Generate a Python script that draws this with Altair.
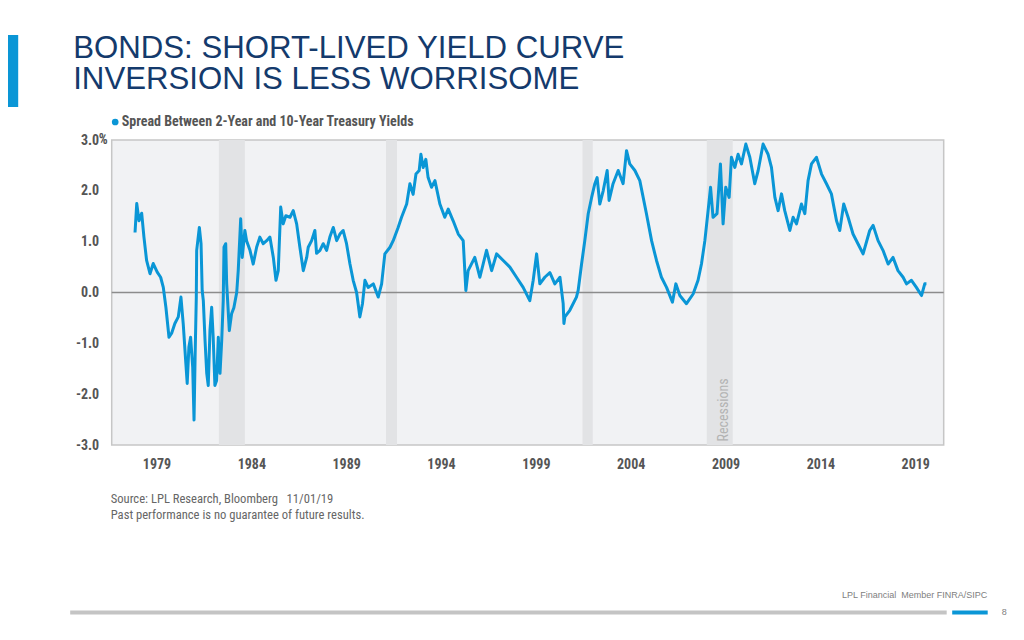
import altair as alt
import pandas as pd

# ---------------- data ----------------
years = [1977.87, 1977.96, 1978.08, 1978.22, 1978.34, 1978.48, 1978.66, 1978.83, 1979.04, 1979.22,
         1979.36, 1979.50, 1979.66, 1979.80, 1979.97, 1980.15, 1980.29, 1980.41, 1980.55, 1980.62,
         1980.71, 1980.80, 1980.91, 1980.98, 1981.04, 1981.10, 1981.12, 1981.26, 1981.35, 1981.41,
         1981.47, 1981.56, 1981.65, 1981.73, 1981.82, 1981.91, 1981.99, 1982.08, 1982.17, 1982.26,
         1982.35, 1982.44, 1982.52, 1982.56, 1982.65, 1982.70, 1982.84, 1982.96, 1983.08, 1983.23,
         1983.31, 1983.44, 1983.52, 1983.66, 1983.75, 1983.93, 1984.10, 1984.28, 1984.45, 1984.63,
         1984.81, 1984.98, 1985.16, 1985.30, 1985.42, 1985.55, 1985.68, 1985.82, 1986.04, 1986.21,
         1986.39, 1986.56, 1986.74, 1986.92, 1987.00, 1987.18, 1987.35, 1987.44, 1987.62, 1987.79,
         1987.97, 1988.14, 1988.32, 1988.50, 1988.67, 1988.84, 1989.02, 1989.20, 1989.37, 1989.55,
         1989.63, 1989.72, 1989.86, 1989.99, 1990.16, 1990.43, 1990.69, 1990.87, 1991.04, 1991.31,
         1991.48, 1991.74, 1991.92, 1992.19, 1992.36, 1992.53, 1992.68, 1992.85, 1992.94, 1993.06,
         1993.20, 1993.32, 1993.50, 1993.68, 1993.94, 1994.20, 1994.38, 1994.64, 1994.91, 1995.17,
         1995.31, 1995.43, 1995.78, 1996.05, 1996.40, 1996.67, 1996.93, 1997.28, 1997.63, 1997.98,
         1998.33, 1998.68, 1998.86, 1999.04, 1999.21, 1999.47, 1999.74, 2000.00, 2000.27, 2000.44,
         2000.48, 2000.53, 2000.79, 2001.14, 2001.23, 2001.41, 2001.58, 2001.76, 2001.94, 2002.11,
         2002.23, 2002.37, 2002.55, 2002.76, 2002.86, 2003.07, 2003.34, 2003.60, 2003.78, 2003.95,
         2004.22, 2004.48, 2004.83, 2005.10, 2005.36, 2005.62, 2005.89, 2006.20, 2006.38, 2006.59,
         2006.94, 2007.29, 2007.55, 2007.73, 2007.91, 2008.08, 2008.21, 2008.34, 2008.55, 2008.73,
         2008.87, 2009.01, 2009.19, 2009.31, 2009.49, 2009.66, 2009.84, 2010.07, 2010.28, 2010.54,
         2010.72, 2010.98, 2011.24, 2011.42, 2011.60, 2011.77, 2011.95, 2012.12, 2012.39, 2012.56,
         2012.74, 2013.00, 2013.18, 2013.35, 2013.53, 2013.79, 2014.06, 2014.32, 2014.58, 2014.85,
         2015.02, 2015.23, 2015.46, 2015.72, 2015.98, 2016.25, 2016.60, 2016.78, 2017.04, 2017.30,
         2017.57, 2017.83, 2018.09, 2018.36, 2018.54, 2018.80, 2019.06, 2019.33, 2019.50, 2019.59]

spread = [1.18, 1.75, 1.41, 1.56, 1.09, 0.63, 0.37, 0.57, 0.40, 0.30,
          0.10, -0.30, -0.88, -0.80, -0.61, -0.48, -0.09, -0.61, -1.40, -1.79,
          -1.07, -0.88, -1.47, -2.51, -1.20, -0.09, 0.83, 1.28, 0.96, 0.04,
          -0.16, -0.94, -1.59, -1.83, -0.75, -0.29, -0.88, -1.83, -1.73, -0.88,
          -1.59, -0.94, -0.16, 0.89, 0.96, 0.18, -0.75, -0.42, -0.30, 0.00,
          0.43, 1.45, 0.69, 1.22, 1.02, 0.83, 0.56, 0.89, 1.09, 0.96,
          1.02, 1.09, 0.69, 0.24, 0.43, 1.68, 1.35, 1.51, 1.48, 1.61,
          1.35, 0.89, 0.43, 0.69, 0.89, 1.02, 1.22, 0.77, 0.83, 0.96,
          0.83, 1.09, 1.28, 1.02, 1.15, 1.22, 0.96, 0.56, 0.24, 0.00,
          -0.22, -0.48, -0.22, 0.24, 0.10, 0.17, -0.09, 0.17, 0.76, 0.89,
          1.02, 1.28, 1.48, 1.74, 2.14, 1.93, 2.33, 2.40, 2.72, 2.46,
          2.62, 2.26, 2.07, 2.20, 1.74, 1.48, 1.64, 1.41, 1.15, 1.02,
          0.04, 0.43, 0.69, 0.30, 0.83, 0.43, 0.76, 0.63, 0.50, 0.30,
          0.10, -0.16, 0.24, 0.76, 0.17, 0.30, 0.39, 0.17, 0.30, -0.22,
          -0.61, -0.48, -0.35, -0.09, 0.04, 0.56, 1.02, 1.55, 1.87, 2.14,
          2.26, 1.74, 2.00, 2.40, 1.81, 2.14, 2.40, 2.14, 2.79, 2.53,
          2.40, 2.20, 1.55, 1.02, 0.63, 0.30, 0.10, -0.19, 0.17, -0.06,
          -0.22, -0.03, 0.24, 0.56, 1.02, 1.61, 2.07, 1.48, 1.55, 2.53,
          1.35, 2.07, 1.87, 2.66, 2.46, 2.72, 2.53, 2.92, 2.66, 2.14,
          2.40, 2.92, 2.72, 2.46, 1.87, 1.61, 1.94, 1.61, 1.22, 1.48,
          1.35, 1.74, 1.55, 2.20, 2.53, 2.66, 2.33, 2.14, 1.94, 1.41,
          1.22, 1.74, 1.48, 1.15, 0.96, 0.76, 1.22, 1.32, 1.02, 0.83,
          0.56, 0.69, 0.43, 0.30, 0.17, 0.24, 0.10, -0.06, 0.17, 0.17]

rec_start = [1982.29, 1991.10, 2001.46, 2008.01]
rec_end = [1983.66, 1991.68, 2002.00, 2009.38]

x_ticks = [1979, 1984, 1989, 1994, 1999, 2004, 2009, 2014, 2019]
y_ticks = [3, 2, 1, 0, -1, -2, -3]

title_lines = ["BONDS: SHORT-LIVED YIELD CURVE", "INVERSION IS LESS WORRISOME"]
legend_label = "Spread Between 2-Year and 10-Year Treasury Yields"
recession_label = "Recessions"
source_lines = ["Source: LPL Research, Bloomberg \u00a0 11/01/19",
                "Past performance is no guarantee of future results."]
footer_text = "LPL Financial \u00a0Member FINRA/SIPC"
page_number = "8"

# ---------------- styling ----------------
W, H = 832, 305
BLUE = "#0a96d6"
NAVY = "#143a6c"
COND = "Liberation Sans Narrow, Arial Narrow, Roboto Condensed, DejaVu Sans Condensed, sans-serif"
SANS = "Liberation Sans, Arial, Helvetica, sans-serif"

series = pd.DataFrame({"year": years, "spread": spread})
recs = pd.DataFrame({"start": rec_start, "end": rec_end})
one = pd.DataFrame({"k": [0]})

xscale = alt.Scale(domain=[1976.64, 2020.5], nice=False, zero=False)
yscale = alt.Scale(domain=[-3, 3], nice=False, zero=False)

x_axis = alt.Axis(values=x_ticks, format="d", title=None, ticks=False, domain=False, grid=False,
                  labelFont=COND, labelFontSize=14, labelFontWeight="bold", labelColor="#555555",
                  labelPadding=12)
y_axis = alt.Axis(values=y_ticks, title=None, ticks=False, domain=False, grid=False,
                  labelExpr="datum.value < 0 ? '-' + format(abs(datum.value), '.1f') : format(datum.value, '.1f')",
                  labelFont=COND, labelFontSize=14, labelFontWeight="bold", labelColor="#555555",
                  labelPadding=13)

rec_layer = alt.Chart(recs).mark_rect(color="#e2e3e5").encode(
    x=alt.X("start:Q", scale=xscale, axis=x_axis),
    x2="end:Q",
    y=alt.value(0), y2=alt.value(H),
)

rec_text = alt.Chart(pd.DataFrame({"x": [2008.93], "t": [recession_label]})).mark_text(
    angle=270, align="left", baseline="middle", font=COND, fontSize=14, color="#b3b3b3"
).encode(x=alt.X("x:Q", scale=xscale), y=alt.value(H - 3.5), text="t:N")

zero_rule = alt.Chart(pd.DataFrame({"y": [0]})).mark_rule(color="#8c8c8c", strokeWidth=1.5).encode(
    y=alt.Y("y:Q", scale=yscale, axis=y_axis)
)

line = alt.Chart(series).mark_line(color=BLUE, strokeWidth=3, strokeJoin="round").encode(
    x=alt.X("year:Q", scale=xscale, axis=x_axis),
    y=alt.Y("spread:Q", scale=yscale, axis=y_axis),
)

pct = alt.Chart(pd.DataFrame({"y": [3]})).mark_text(
    text="%", align="left", baseline="middle", font=COND, fontSize=14, fontWeight="bold", color="#555555"
).encode(y=alt.Y("y:Q", scale=yscale), x=alt.value(-13))

# title + decorations
title1 = alt.Chart(one).mark_text(text=title_lines[0], align="left", baseline="alphabetic",
                                  font=SANS, fontSize=31.2, color=NAVY).encode(
    x=alt.value(-38.5), y=alt.value(-82.5))
title2 = alt.Chart(one).mark_text(text=title_lines[1], align="left", baseline="alphabetic",
                                  font=SANS, fontSize=31.2, color=NAVY).encode(
    x=alt.value(-38.5), y=alt.value(-51))
side_bar = alt.Chart(one).mark_rect(color="#0a96d6").encode(
    x=alt.value(-104), x2=alt.value(-93.5), y=alt.value(-105), y2=alt.value(-33))

leg_dot = alt.Chart(one).mark_point(filled=True, size=45, color=BLUE, opacity=1).encode(
    x=alt.value(3.5), y=alt.value(-18))
leg_text = alt.Chart(one).mark_text(text=legend_label, align="left", baseline="middle",
                                    font=COND, fontSize=14, fontWeight="bold", color="#555555").encode(
    x=alt.value(10), y=alt.value(-18))

src1 = alt.Chart(one).mark_text(text=source_lines[0], align="left", baseline="alphabetic",
                                font=COND, fontSize=12.6, color="#666666").encode(
    x=alt.value(-1), y=alt.value(363))
src2 = alt.Chart(one).mark_text(text=source_lines[1], align="left", baseline="alphabetic",
                                font=COND, fontSize=12.6, color="#666666").encode(
    x=alt.value(-1), y=alt.value(379))

foot = alt.Chart(one).mark_text(text=footer_text, align="right", baseline="alphabetic",
                                font=SANS, fontSize=9, color="#808080").encode(
    x=alt.value(875.5), y=alt.value(458))
gray_bar = alt.Chart(one).mark_rect(color="#c4c4c4").encode(
    x=alt.value(-41.5), x2=alt.value(835), y=alt.value(470.5), y2=alt.value(474.5))
blue_bar = alt.Chart(one).mark_rect(color="#0a96d6").encode(
    x=alt.value(840.5), x2=alt.value(876), y=alt.value(470.5), y2=alt.value(474.5))
page = alt.Chart(one).mark_text(text=page_number, align="center", baseline="middle",
                                font=SANS, fontSize=9, color="#808080").encode(
    x=alt.value(892.5), y=alt.value(472))

chart = alt.layer(
    rec_layer, rec_text, zero_rule, line, pct,
    title1, title2, side_bar, leg_dot, leg_text, src1, src2, foot, gray_bar, blue_bar, page
).properties(
    width=W, height=H,
    autosize=alt.AutoSizeParams(type="none"),
    padding={"left": 103.7, "top": 132, "right": 72.3, "bottom": 183},
    background="white",
).configure_view(
    fill="#f1f2f4", stroke="#c6c6c6", strokeWidth=1.5
)

chart.save("out.html", embed_options={"renderer": "svg", "actions": False})
